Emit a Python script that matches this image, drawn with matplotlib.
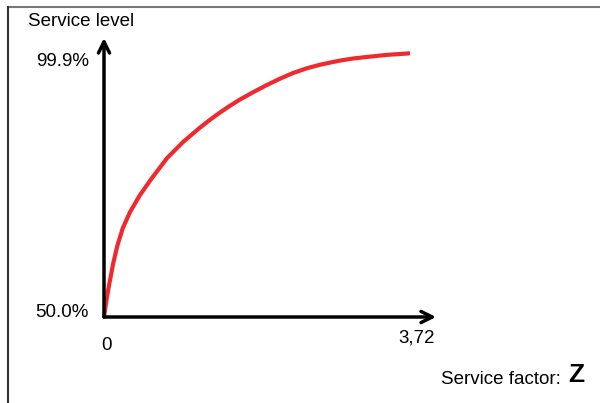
import matplotlib.pyplot as plt
from matplotlib.lines import Line2D

plt.rcParams['font.family'] = ['Liberation Sans', 'DejaVu Sans']

# 服务系数 z 与服务水平 (%)
z_values = [0, 0.022, 0.048, 0.075, 0.104, 0.149, 0.210, 0.291, 0.403, 0.534,
            0.706, 0.885, 1.076, 1.188, 1.30, 1.412, 1.524, 1.67, 1.826, 1.97,
            2.118, 2.27, 2.42, 2.53, 2.644, 2.79, 2.947, 3.17, 3.429]
service_level = [50.0, 52.6, 55.3, 57.8, 60.4, 63.7, 67.1, 70.2, 73.5, 76.7,
                 80.6, 83.7, 86.5, 88.0, 89.4, 90.7, 91.9, 93.3, 94.7, 95.9,
                 97.0, 97.9, 98.6, 99.0, 99.4, 99.8, 100.1, 100.5, 100.8]
y_tick_labels = ['50.0%', '99.9%']
x_tick_labels = ['0', '3,72']
z_max = 3.72

fig = plt.figure(figsize=(6, 4.03), dpi=100)
ax = fig.add_axes([104 / 600, 86 / 403, 332 / 600, 279 / 403])
ax.set_xlim(0, z_max)
ax.set_ylim(50, 103.75)
ax.axis('off')

# 坐标轴箭头
ax.annotate('', xy=(z_max, 50), xytext=(0, 50),
            arrowprops=dict(arrowstyle='->', lw=2.5, color='black', mutation_scale=20,
                            shrinkA=0, shrinkB=0), annotation_clip=False)
ax.annotate('', xy=(0, 103.75), xytext=(0, 50),
            arrowprops=dict(arrowstyle='->', lw=2.5, color='black', mutation_scale=20,
                            shrinkA=0, shrinkB=0), annotation_clip=False)

ax.plot(z_values, service_level, color='#ee2a2e', lw=3, solid_joinstyle='round',
        solid_capstyle='butt', clip_on=False)

# 刻度文字
ax.text(-0.17, 99.3, y_tick_labels[1], ha='right', va='center', fontsize=13.5)
ax.text(-0.17, 50.8, y_tick_labels[0], ha='right', va='center', fontsize=13.5)
ax.text(0.03, 44.6, x_tick_labels[0], ha='center', va='center', fontsize=13.5)
ax.text(z_max - 0.01, 46, x_tick_labels[1], ha='right', va='center', fontsize=13.5)

fig.text(28 / 600, 1 - 22 / 403, 'Service level', ha='left', va='center', fontsize=13.5)
fig.text(441 / 600, 1 - 379 / 403, 'Service factor: ', ha='left', va='center', fontsize=13.5)
fig.text(568 / 600, 1 - 375 / 403, 'Z', ha='left', va='center', fontsize=19, fontweight='bold')

# 外框
fig.add_artist(Line2D([8 / 600, 1], [1 - 7 / 403, 1 - 7 / 403], color='#777777', lw=1.5))
fig.add_artist(Line2D([8 / 600, 8 / 600], [0, 1 - 7 / 403], color='#333333', lw=1.5))

plt.savefig('out.png')
